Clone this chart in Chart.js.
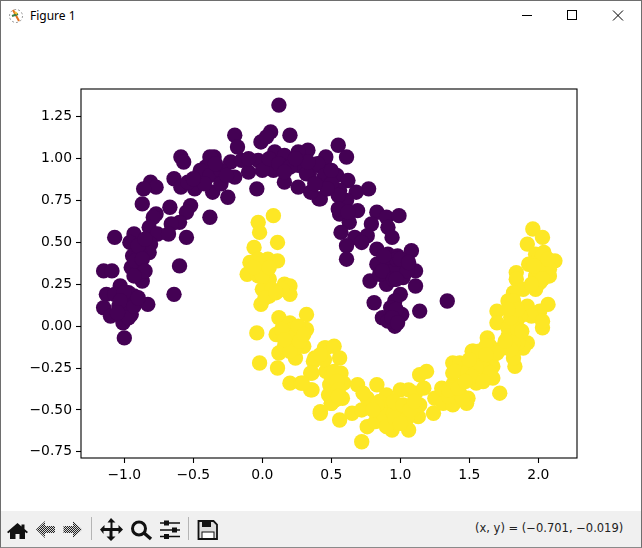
<!DOCTYPE html>
<html><head><meta charset="utf-8">
<script src="https://cdn.jsdelivr.net/npm/chart.js@4"></script>
<style>
html,body{margin:0;padding:0;background:#fff;overflow:hidden}
#win{position:relative;width:642px;height:548px;background:#fff;box-sizing:border-box;overflow:hidden}
#edge{position:absolute;inset:0;border:1px solid #6e6e6e;border-bottom-color:#8a8a8a;pointer-events:none;z-index:5}
#title{position:absolute;left:30px;top:8px;font:12px "Noto Sans",sans-serif;color:#000;line-height:16px}
#tb{position:absolute;left:0;top:511px;width:642px;height:36px;background:#f0f0f0}
#status{position:absolute;left:475px;top:519px;width:152px;font:11.5px "DejaVu Sans",sans-serif;color:#222;white-space:nowrap;line-height:18px}
svg{position:absolute}
canvas{position:absolute;left:1px;top:31px}
</style></head><body>
<div id="win">
<svg style="left:8px;top:7px" width="18" height="18" viewBox="0 0 18 18"><circle cx="8" cy="9" r="6.5" fill="none" stroke="#999" stroke-width="1" stroke-dasharray="2 2"/><path d="M5 3l6 11" stroke="#e2711d" stroke-width="2"/><path d="M4 9l6-2" stroke="#3a7d44" stroke-width="2"/><path d="M7 5l2 2" stroke="#f2c230" stroke-width="2"/></svg>
<div id="title">Figure 1</div>
<svg style="left:520px;top:8px" width="110" height="16" viewBox="0 0 110 16" fill="none" stroke="#000" stroke-width="1"><path d="M2 7.500h10"/><rect x="47.500" y="2.500" width="9" height="9"/><path d="M93 2.500l10 10M103 2.500l-10 10"/></svg>
<canvas id="c" width="640" height="480"></canvas>
<div id="tb"></div>
<svg style="left:0;top:511px" width="230" height="36" viewBox="0 0 230 36">
<defs><pattern id="dots" width="2" height="2" patternUnits="userSpaceOnUse"><rect width="2" height="2" fill="#d8d8d8"/><rect width="1" height="1" fill="#222"/><rect x="1" y="1" width="1" height="1" fill="#222"/></pattern></defs>
<path d="M17.500 12L7 21l1.300 1.300 1.700-1.400V28h5.500v-5h4v5H25v-7.100l1.700 1.400L28 21l-3.500-3V13.500h-3v2z" fill="#111"/>
<path d="M36 18.500l9-8.500v5h10v7H45v5z" fill="url(#dots)"/><path d="M82 18.500L73 10v5H63.500v7H73v5z" fill="url(#dots)"/>
<path d="M91.500 6v23M188.500 6v23" stroke="#b4b4b4" stroke-width="1"/>
<path d="M111 7l4.500 4.500h-3V17h6v-3l4.500 4.500-4.500 4.500v-3h-6v5.500h3L111 30l-4.500-4.500h3V20h-6v3L100 18.500l4.500-4.500v3h6v-5.500h-3z" fill="#111"/>
<circle cx="139" cy="17.500" r="6.500" fill="none" stroke="#111" stroke-width="3"/><path d="M144 22l7 6" stroke="#111" stroke-width="3.400"/>
<g stroke="#111" stroke-width="1.400"><path d="M160 12h20M160 19h20M160 25.500h20"/></g>
<g fill="#111"><rect x="164" y="9.500" width="5" height="5"/><rect x="172" y="16.500" width="5" height="5"/><rect x="164" y="23" width="5" height="5"/></g>
<path d="M198.500 10h15l3.500 3.500V28h-18.500z" fill="#ddd" stroke="#111" stroke-width="1.800"/><rect x="202" y="10" width="9" height="6" fill="#111"/><rect x="202" y="21" width="12" height="6.500" fill="#fff" stroke="#111"/>
</svg>
<div id="status">(x, y) = (−0.701, −0.019)</div>
<div id="edge"></div>
</div>
<script>
const xTicks=[-1,-0.5,0,0.5,1,1.5,2];
const yTicks=[-0.75,-0.5,-0.25,0,0.25,0.5,0.75,1,1.25];
const purpleX=[.12,-.20,.06,-.01,.03,.20,-.18,.33,-.59,-.57,-.35,-.38,-.41,-.23,-.15,-.03,.09,.16,.26,.26,.08,-.10,-.20,-.35,.45,.40,.34,.43,.41,-.64,-.59,-.49,-.54,-.44,-.36,-.25,-.04,.16,.26,-.81,-.77,-.86,-.87,-.67,-.52,-.55,-.77,-.79,-.38,-.60,-.66,-.82,-.93,-1.07,-.76,-.68,-.55,-.96,-.81,-.82,-.94,-.89,-.95,-.90,-.60,-1.15,-1.09,-.87,-.89,-.64,-1.03,-1.13,-1.07,-.93,-.83,-1.15,-1.10,-1.01,-.95,-1.00,-1.04,-.97,-1.00,-.99,-1.00,
.55,.61,.46,.40,.32,.54,.62,.77,.42,.35,.56,.68,.61,.69,.56,.63,.57,.83,.90,.99,.79,.91,.94,.67,.76,.72,.61,.61,.83,.91,1.08,.98,.83,.93,1.02,1.11,.78,.90,.85,1.02,1.11,1.00,.81,.96,.93,.87,1.01,1.14,.96,.91,1.34,
-.45,-.38,-.30,-.42,-.30,-.50,-.34,-.26,-.10,.00,.05,.12,.20,.16,.33,.24,.45,.50,.55,.47,.50,.38,.55,.62,-.90,-.85,-.92,-.87,-.85,-.93,-.97,-1.00,-1.03,-.97,-1.05,-.93,-.90,.95,.97,.87,.95,1.05,1.00,.88,.97,1.06,.97,.94,.98];
const purpleY=[1.32,1.14,1.16,1.10,1.13,1.14,1.07,1.05,1.01,.98,1.01,1.01,.95,.98,.99,.99,1.04,1.02,1.04,.96,.93,.92,.89,.91,.99,.96,.91,.86,.76,.88,.83,.82,.86,.88,.80,.77,.82,.86,.83,.86,.83,.82,.73,.71,.72,.68,.67,.65,.65,.62,.61,.59,.55,.53,.55,.55,.53,.50,.49,.44,.42,.44,.35,.36,.36,.33,.33,.27,.31,.19,.24,.19,.19,.18,.13,.11,.06,.02,.07,.13,.12,.12,-.07,.17,.08,
1.08,1.01,1.01,.97,.91,.90,.87,.82,.76,.80,.81,.80,.75,.69,.67,.62,.56,.68,.65,.66,.61,.59,.53,.53,.54,.50,.48,.40,.46,.43,.45,.42,.37,.37,.35,.33,.27,.25,.31,.29,.24,.19,.14,.15,.11,.05,.07,.09,.00,.03,.15,
.93,.90,.93,.85,.85,.88,.97,.90,1.00,.93,1.00,.97,.95,.92,.98,1.00,.90,.85,.78,.82,.93,.85,.70,.68,.48,.52,.39,.40,.33,.30,.20,.20,.15,.05,.08,.12,.17,.33,.40,.33,.28,.33,.40,.42,.28,.38,.10,.05,.02];
const yellowX=[.08,-.03,-.02,.11,-.06,.11,.04,-.09,-.03,-.11,-.03,.03,.00,.05,-.01,.16,.20,.20,.14,.32,.12,-.04,.10,.20,.32,.16,.26,.21,.30,.12,.16,.24,-.02,.11,.20,.28,.35,.46,.37,.35,.46,.49,.42,.50,
.45,.52,.38,.56,.47,.57,.36,.36,.29,.49,.59,.69,.83,.53,.58,.50,.42,.56,.65,.72,.76,.73,.76,.82,.72,.90,.85,.94,.94,1.06,.90,1.00,1.00,1.06,1.11,1.17,1.14,1.19,1.13,1.09,1.24,1.14,1.25,1.30,1.31,1.38,1.38,1.43,1.48,1.49,1.38,1.43,1.38,1.52,1.55,1.63,1.48,1.55,1.63,1.67,1.72,1.55,
1.96,2.03,1.92,2.04,1.98,2.12,1.93,2.01,2.08,2.08,1.98,2.01,1.84,1.84,1.89,1.98,1.82,1.78,1.82,1.70,2.07,1.92,2.01,1.95,2.03,2.03,1.87,1.70,1.84,1.78,1.78,1.92,1.89,1.83,1.85,1.74,1.65,1.53,1.83,1.82,1.66,1.58,1.67,1.40,1.49,1.63,
.00,.02,.05,.07,.00,.05,-.06,.02,.10,.18,.22,.25,.20,.14,.26,.17,.24,.20,.27,.30,.16,.45,.42,.50,.52,.54,.48,.55,.55,.85,.90,.88,.95,.90,.96,1.05,1.00,.95,.83,1.02,.80,1.07,1.10,1.35,1.40,1.35,1.45,1.42,1.60,1.57,1.62,1.60,1.65,1.55,1.50,1.52,1.47,1.60,1.70,1.62,1.85,1.82,1.88,1.80,1.85,1.80,1.76,1.78,2.00,2.05,2.00,2.03,2.07,1.97,2.03,1.95];
const yellowY=[.66,.62,.56,.50,.47,.39,.40,.38,.40,.31,.30,.32,.22,.18,.13,.25,.24,.19,.22,.07,.05,-.04,-.05,.02,-.02,-.04,-.04,-.10,-.12,-.16,-.12,-.19,-.22,-.25,-.34,-.34,-.38,-.13,-.21,-.28,-.27,-.35,-.52,-.46,
-.13,-.12,-.19,-.19,-.27,-.28,-.28,-.38,-.34,-.35,-.34,-.35,-.35,-.44,-.43,-.46,-.51,-.56,-.52,-.50,-.43,-.40,-.60,-.57,-.69,-.41,-.50,-.47,-.62,-.62,-.56,-.52,-.38,-.38,-.40,-.37,-.29,-.27,-.54,-.50,-.52,-.47,-.43,-.37,-.46,-.47,-.35,-.40,-.46,-.43,-.22,-.22,-.28,-.15,-.16,-.07,-.27,-.34,-.28,-.31,-.40,-.22,
.58,.53,.49,.44,.43,.39,.37,.37,.34,.30,.30,.26,.32,.28,.22,.22,.20,.15,.15,.09,.13,.12,.09,.06,-.01,.03,.06,.02,.02,-.01,-.06,-.10,-.13,-.07,-.10,-.13,-.12,-.15,-.24,-.19,-.19,-.21,-.24,-.27,-.27,-.27,
.38,.30,.28,.22,.30,.35,.35,.17,.20,.00,-.02,-.06,-.07,-.02,.00,-.10,-.13,-.15,-.09,-.05,-.08,-.20,-.17,-.30,-.27,-.33,-.41,-.38,-.42,-.45,-.48,-.53,-.52,-.60,-.55,-.55,-.58,-.45,-.47,-.47,-.50,-.50,-.45,-.42,-.42,-.38,-.43,-.37,-.20,-.15,-.12,-.25,-.28,-.25,-.20,-.30,-.33,-.33,-.16,-.17,-.02,-.10,-.03,.05,.10,-.14,-.09,.10,.40,.33,.33,.42,.40,.36,.28,.25];
const pts=(xs,ys)=>xs.map((x,i)=>({x,y:ys[i]}));
const tickFont={family:'"DejaVu Sans"',size:13.9};
const fmt=(v,d)=>v.toFixed(d).replace('-','\u2212');
const frame={id:'frame',afterDraw(ch){const a=ch.chartArea,c=ch.ctx;c.save();c.strokeStyle='#000';c.lineWidth=1.1;c.strokeRect(a.left,a.top,a.width,a.height);c.restore();}};
new Chart(document.getElementById('c'),{
 type:'scatter',
 data:{datasets:[
  {data:pts(purpleX,purpleY),backgroundColor:'#440154',borderWidth:0,pointRadius:7.7,pointHoverRadius:7.7},
  {data:pts(yellowX,yellowY),backgroundColor:'#fde725',borderWidth:0,pointRadius:7.7,pointHoverRadius:7.7}
 ]},
 options:{
  responsive:false,animation:false,devicePixelRatio:1,
  layout:{padding:{top:58,right:64,left:0,bottom:0}},
  plugins:{legend:{display:false},tooltip:{enabled:false}},
  scales:{
   x:{type:'linear',min:-1.314,max:2.28,
    afterBuildTicks(s){s.ticks=xTicks.map(value=>({value}));},
    afterFit(s){s.height=53;},
    grid:{display:true,drawOnChartArea:false,drawTicks:true,tickLength:5,color:'#000',tickWidth:1.1},
    border:{display:false},
    ticks:{color:'#000',font:tickFont,maxRotation:0,autoSkip:false,padding:4,callback:v=>fmt(v,1)}},
   y:{type:'linear',min:-0.787,max:1.416,
    afterBuildTicks(s){s.ticks=yTicks.map(value=>({value}));},
    afterFit(s){s.width=80;},
    grid:{display:true,drawOnChartArea:false,drawTicks:true,tickLength:5,color:'#000',tickWidth:1.1},
    border:{display:false},
    ticks:{color:'#000',font:tickFont,autoSkip:false,padding:4,callback:v=>fmt(v,2)}}
  }
 },
 plugins:[frame]
});
</script>
</body></html>
